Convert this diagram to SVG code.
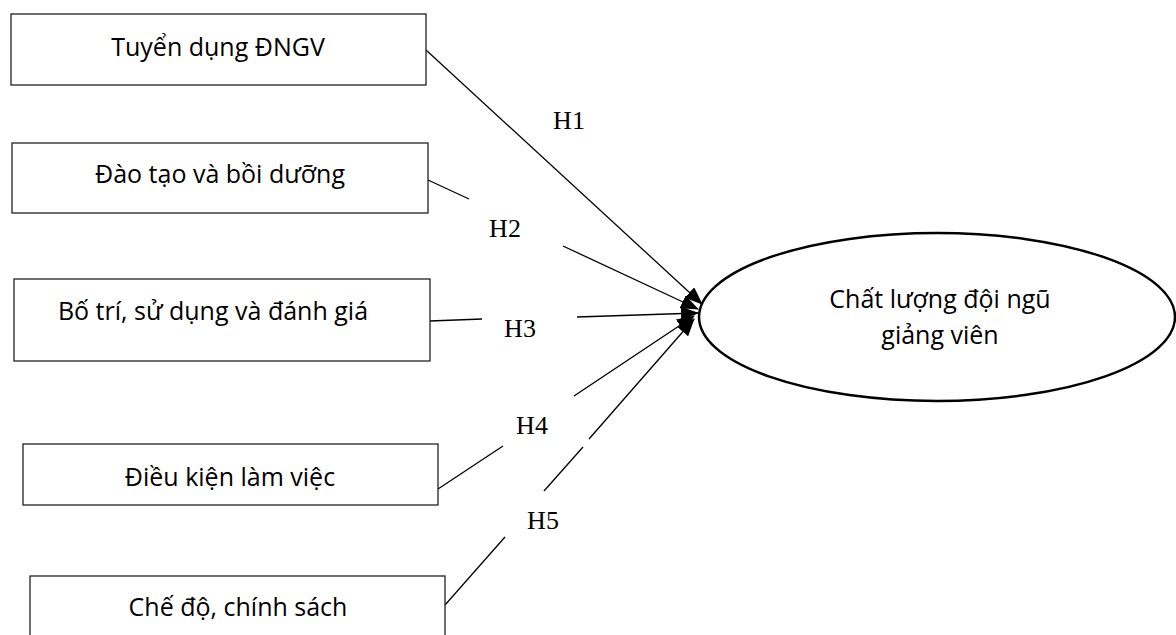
<svg xmlns="http://www.w3.org/2000/svg" width="1176" height="635" viewBox="0 0 1176 635">
<defs>
<style>
.box{fill:#fff;stroke:#222;stroke-width:1.3}
.lbl{font-family:"Open Sans","Liberation Sans",Arial,sans-serif;font-size:25px;fill:#000;text-anchor:middle}
.h{font-family:"Liberation Serif","Times New Roman",serif;font-size:26px;fill:#000;text-anchor:middle}
.ln{stroke:#000;stroke-width:1.3;fill:none}
</style>
<marker id="arr" markerUnits="userSpaceOnUse" markerWidth="18" markerHeight="14" viewBox="0 0 18 14" refX="17" refY="7" orient="auto">
<path d="M0,0 L18,7 L0,14 Z" fill="#000"/>
</marker>
</defs>
<rect width="1176" height="635" fill="#fff"/>
<g id="connectors">
<line class="ln" x1="426" y1="50" x2="702" y2="304" marker-end="url(#arr)"/>
<line class="ln" x1="428" y1="180" x2="469" y2="199"/>
<line class="ln" x1="563" y1="246" x2="698" y2="309" marker-end="url(#arr)"/>
<line class="ln" x1="430" y1="321" x2="482" y2="319"/>
<line class="ln" x1="577" y1="317" x2="698" y2="313" marker-end="url(#arr)"/>
<line class="ln" x1="438" y1="489" x2="503" y2="446"/>
<line class="ln" x1="574" y1="396" x2="694" y2="316" marker-end="url(#arr)"/>
<line class="ln" x1="445" y1="605" x2="505" y2="537"/>
<line class="ln" x1="544" y1="491" x2="583" y2="447"/>
<line class="ln" x1="589" y1="439" x2="694" y2="319" marker-end="url(#arr)"/>
</g>
<g id="labels">
<text class="h" x="569" y="129">H1</text>
<text class="h" x="505" y="237">H2</text>
<text class="h" x="520" y="337">H3</text>
<text class="h" x="532" y="434">H4</text>
<text class="h" x="543" y="529">H5</text>
</g>
<g id="n1">
<rect class="box" x="11" y="14" width="415" height="71"/>
<text class="lbl" x="218" y="56">Tuyển dụng ĐNGV</text>
</g>
<g id="n2">
<rect class="box" x="12" y="143" width="416" height="70"/>
<text class="lbl" x="220" y="183">Đào tạo và bồi dưỡng</text>
</g>
<g id="n3">
<rect class="box" x="14" y="279" width="416" height="82"/>
<text class="lbl" x="213" y="320">Bố trí, sử dụng và đánh giá</text>
</g>
<g id="n4">
<rect class="box" x="23" y="444" width="415" height="61"/>
<text class="lbl" x="230" y="486">Điều kiện làm việc</text>
</g>
<g id="n5">
<rect class="box" x="30" y="576" width="415" height="70"/>
<text class="lbl" x="238" y="616">Chế độ, chính sách</text>
</g>
<g id="n6">
<ellipse cx="937" cy="317" rx="238" ry="84" fill="#fff" stroke="#000" stroke-width="2.5"/>
<text class="lbl" x="940" y="308">Chất lượng đội ngũ</text>
<text class="lbl" x="940" y="344">giảng viên</text>
</g>
</svg>
